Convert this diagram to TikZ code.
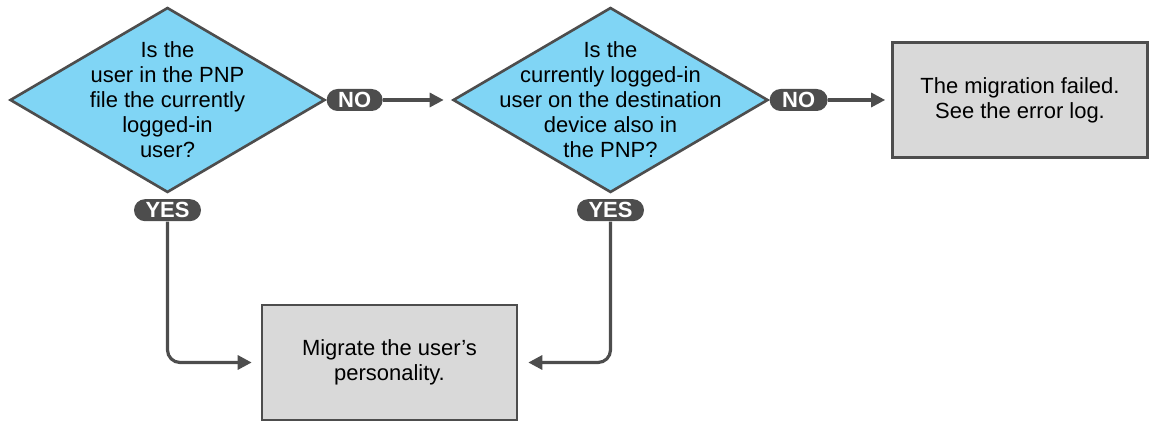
\documentclass[tikz,border=0pt]{standalone}
\usepackage{fontspec}
\setmainfont{Liberation Sans}
\usetikzlibrary{
  shapes.geometric,
  arrows.meta,
  positioning
}
\definecolor{qblue}{HTML}{80D5F5}
\definecolor{boxgray}{HTML}{D9D9D9}
\definecolor{edgegray}{HTML}{4D4D4D}

\begin{document}
\begin{tikzpicture}[
  question/.style={
    diamond,
    draw=edgegray,
    line width=1.5pt,
    fill=qblue,
    minimum width=6.3cm,
    minimum height=3.7cm,
    inner sep=0pt,
  },
  qtext/.style={
    align=center,
    font=\fontsize{12.5}{14.2}\selectfont,
  },
  result/.style={
    rectangle,
    draw=edgegray,
    line width=1.5pt,
    fill=boxgray,
    minimum width=5.1cm,
    minimum height=2.3cm,
    align=center,
    font=\fontsize{12.5}{14.2}\selectfont,
  },
  answer/.style={
    rectangle,
    rounded corners=2.2mm,
    fill=edgegray,
    text=white,
    font=\bfseries\fontsize{12.5}{13}\selectfont,
    minimum height=4.4mm,
    inner sep=0pt,
  },
  flow/.style={
    draw=edgegray,
    line width=1.8pt,
    rounded corners=2.5mm,
    -{Triangle[length=2.8mm,width=2.8mm]},
  },
]
\useasboundingbox (0,0) rectangle (23.08,8.46);

\node[question, label={[qtext]center:Is the\\user in the PNP\\file the currently\\logged-in\\user?}] (q1) at (3.35,6.46) {};
\node[question, label={[qtext]center:Is the\\currently logged-in\\user on the destination\\device also in\\the PNP?}] (q2) at (12.21,6.46) {};
\node[result] (failed) at (20.4,6.46) {The migration failed.\\See the error log.};
\node[result] (migrate) at (7.79,1.21) {Migrate the user's\\personality.};

\node[answer, minimum width=1.12cm, anchor=west] (no1) at (q1.east) {NO};
\node[answer, minimum width=1.16cm, anchor=west] (no2) at (q2.east) {NO};
\node[answer, minimum width=1.34cm, below=0.1cm of q1.south] (yes1) {YES};
\node[answer, minimum width=1.34cm, below=0.1cm of q2.south] (yes2) {YES};

\draw[flow] (no1) -- ([xshift=-0.16cm]q2.west);
\draw[flow] (no2) -- ([xshift=-0.12cm]failed.west);
\draw[flow] (yes1) |- ([xshift=-0.18cm]migrate.west);
\draw[flow] (yes2) |- ([xshift=0.2cm]migrate.east);
\end{tikzpicture}
\end{document}
